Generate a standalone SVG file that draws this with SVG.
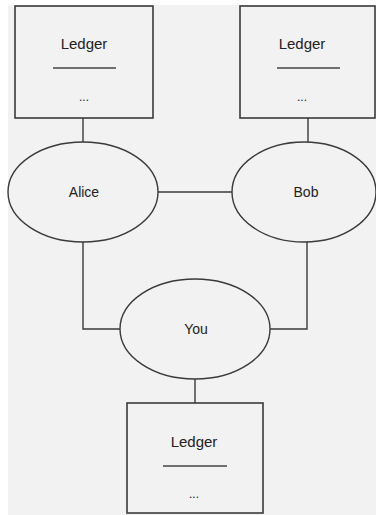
<svg xmlns="http://www.w3.org/2000/svg" width="376" height="515" viewBox="0 0 376 515">
<style>
.box{fill:#f2f2f2;stroke:#3a3a3a;stroke-width:1.6}
.ell{fill:#f2f2f2;stroke:#3a3a3a;stroke-width:1.4}
.sep{stroke:#444;stroke-width:1.4}
.conn{fill:none;stroke:#3a3a3a;stroke-width:1.4}
.t{font-family:"Liberation Sans",Arial,sans-serif;fill:#222;text-anchor:middle}
.big{font-size:15px}
.mid{font-size:14px}
.dots{font-size:12px}
</style>
<rect x="0" y="0" width="376" height="515" fill="#ffffff"/>
<rect x="8" y="5" width="368" height="510" fill="#f2f2f2"/>
<g id="connectors">
<line class="conn" x1="83" y1="118" x2="83" y2="142"/>
<line class="conn" x1="308" y1="118" x2="308" y2="142"/>
<line class="conn" x1="158" y1="192" x2="232" y2="192"/>
<polyline class="conn" points="83,242 83,329 120,329"/>
<polyline class="conn" points="307,242 307,329 270,329"/>
<line class="conn" x1="195" y1="379" x2="195" y2="403"/>
</g>
<g id="ledger-alice">
<rect class="box" x="15" y="6" width="138" height="112"/>
<text class="t big" x="84" y="49">Ledger</text>
<line class="sep" x1="53" y1="68" x2="116" y2="68"/>
<text class="t dots" x="84" y="101">...</text>
</g>
<g id="ledger-bob">
<rect class="box" x="240" y="6" width="135" height="112"/>
<text class="t big" x="302" y="49">Ledger</text>
<line class="sep" x1="277" y1="68" x2="340" y2="68"/>
<text class="t dots" x="302" y="101">...</text>
</g>
<g id="alice">
<ellipse class="ell" cx="83" cy="192" rx="75" ry="50"/>
<text class="t mid" x="84" y="197">Alice</text>
</g>
<g id="bob">
<ellipse class="ell" cx="304" cy="192" rx="72" ry="50"/>
<text class="t mid" x="306" y="197">Bob</text>
</g>
<g id="you">
<ellipse class="ell" cx="195" cy="329" rx="75" ry="50"/>
<text class="t mid" x="196" y="334">You</text>
</g>
<g id="ledger-you">
<rect class="box" x="127" y="403" width="136" height="110"/>
<text class="t big" x="194" y="447">Ledger</text>
<line class="sep" x1="163" y1="466" x2="227" y2="466"/>
<text class="t dots" x="194" y="498">...</text>
</g>
</svg>
